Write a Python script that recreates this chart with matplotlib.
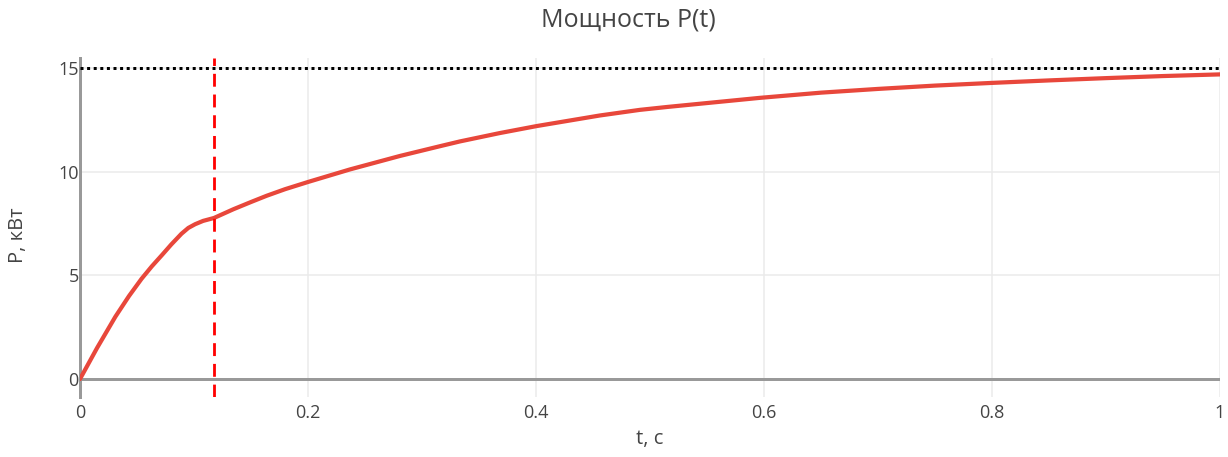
import matplotlib
matplotlib.use("Agg")
import matplotlib.pyplot as plt

plt.rcParams["font.family"] = ["Open Sans", "DejaVu Sans"]

# readings
t_vals = [0.0, 0.015, 0.031, 0.043, 0.054, 0.063, 0.072, 0.080, 0.089, 0.095,
          0.101, 0.108, 0.1175, 0.1345, 0.150, 0.1637, 0.180, 0.2003, 0.2368,
          0.2807, 0.3158, 0.3333, 0.368, 0.4006, 0.456, 0.491, 0.515, 0.5965,
          0.650, 0.700, 0.750, 0.800, 0.850, 0.900, 0.950, 1.000]
p_vals = [0.0, 1.5, 3.0, 4.0, 4.83, 5.43, 5.98, 6.48, 7.0, 7.28,
          7.46, 7.62, 7.76, 8.18, 8.53, 8.83, 9.15, 9.50, 10.10,
          10.75, 11.22, 11.45, 11.85, 12.19, 12.70, 12.97, 13.11, 13.55,
          13.80, 13.98, 14.14, 14.27, 14.39, 14.50, 14.60, 14.68]
p_limit = 15.0
t_switch = 0.1175

title = "Мощность P(t)"
x_label = "t, c"
y_label = "P, кВт"
x_ticks = [0, 0.2, 0.4, 0.6, 0.8, 1.0]
x_tick_labels = ["0", "0.2", "0.4", "0.6", "0.8", "1"]
y_ticks = [0, 5, 10, 15]

W, H = 1228, 457
fig = plt.figure(figsize=(W / 100, H / 100), dpi=100)
ax = fig.add_axes([80 / W, 1 - 397 / H, 1140 / W, 339 / H])

text_color = "#444444"
px = 0.72  # points per pixel at dpi 100

# grid
for xt in x_ticks[1:]:
    ax.axvline(xt, color="#ebebeb", lw=1.5 * px, zorder=0)
for yt in y_ticks[1:]:
    ax.axhline(yt, color="#ebebeb", lw=1.5 * px, zorder=0)

# zero lines
ax.axhline(0, color="#999999", lw=3 * px, zorder=1)
ax.axvline(0, color="#999999", lw=3 * px, zorder=1, clip_on=False)

ax.plot(t_vals, p_vals, color="#e8473b", lw=4.2 * px, zorder=3,
        solid_capstyle="round", solid_joinstyle="round")
ax.axhline(p_limit, color="black", lw=3 * px, linestyle=(0, (1, 1.2)), zorder=4)
ax.axvline(t_switch, color="red", lw=2.8 * px, linestyle=(0, (4.6, 2.8)), zorder=4)

ax.set_xlim(0, 1)
ax.set_ylim(-0.867, 15.47)
ax.set_xticks(x_ticks)
ax.set_xticklabels(x_tick_labels)
ax.set_yticks(y_ticks)
ax.tick_params(axis="both", length=0, labelsize=13, colors=text_color)
ax.tick_params(axis="x", pad=5)
ax.tick_params(axis="y", pad=1)
for s in ax.spines.values():
    s.set_visible(False)

fig.text(650 / W, 1 - 439 / H, x_label, ha="center", va="center",
         fontsize=14.5, color=text_color)
fig.text(18 / W, 1 - 235 / H, y_label, ha="center", va="center",
         rotation=90, fontsize=14.5, color=text_color)
fig.text(628 / W, 1 - 20 / H, title, ha="center", va="center",
         fontsize=18, color=text_color)

fig.savefig("out.png", dpi=100)
